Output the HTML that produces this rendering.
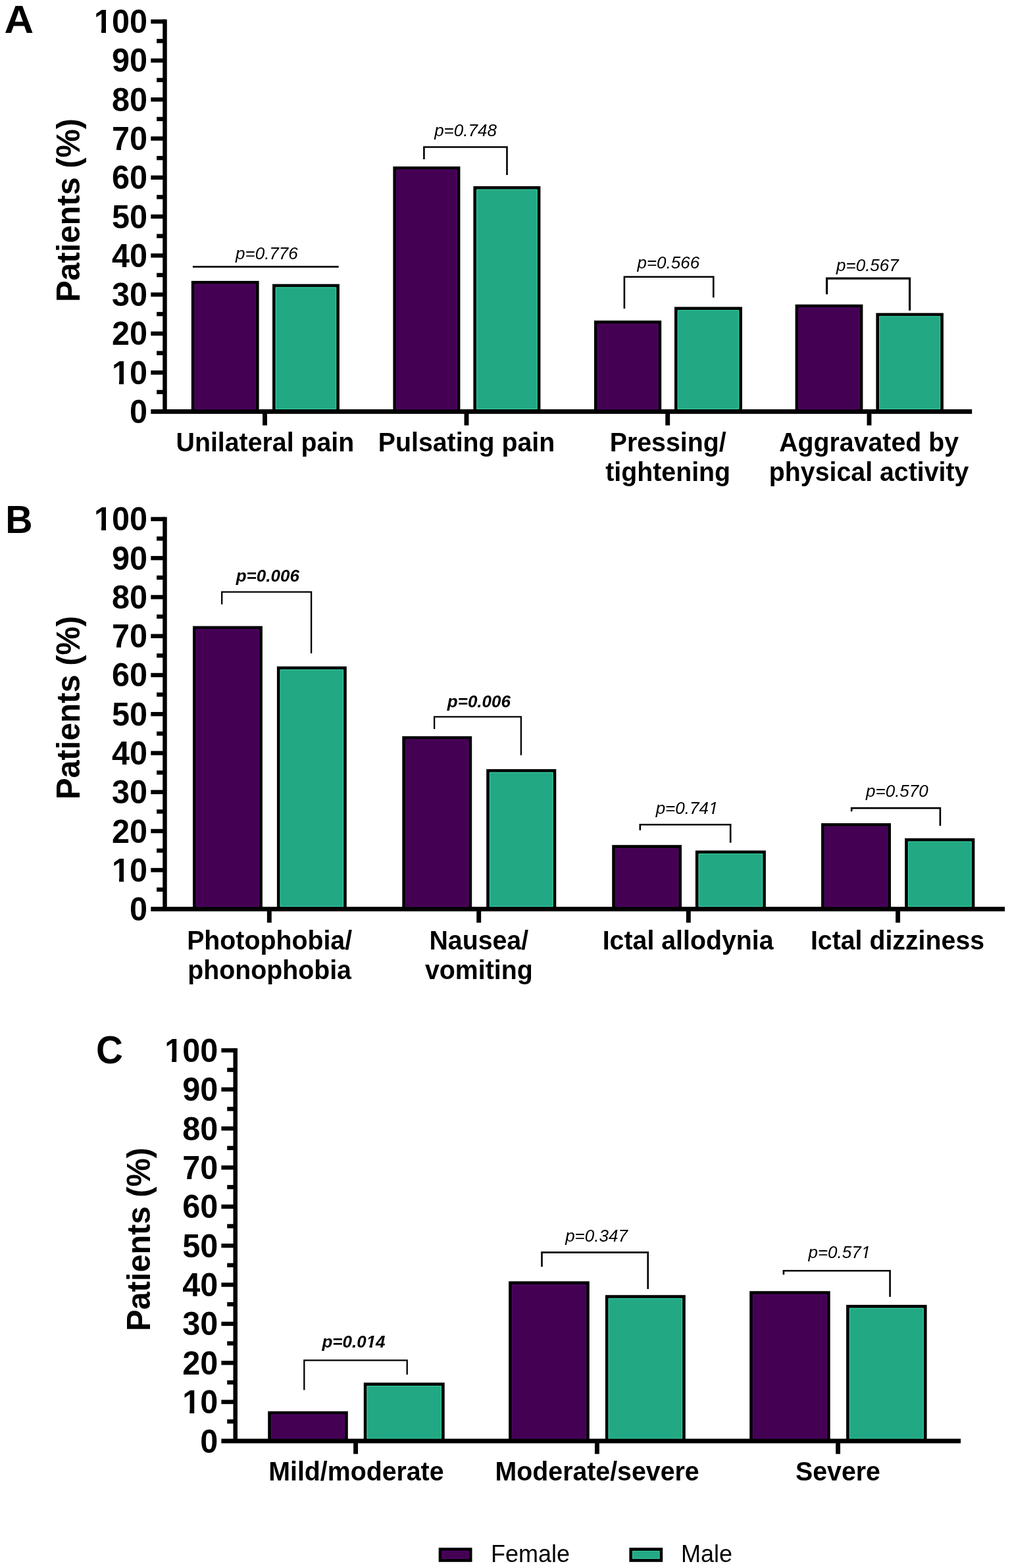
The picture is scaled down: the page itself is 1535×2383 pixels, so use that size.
<!DOCTYPE html>
<html lang="en">
<head>
<meta charset="utf-8">
<title>Patients (%) by sex: headache characteristics, associated symptoms and severity</title>
<style>
html, body { margin: 0; padding: 0; background: #ffffff; }
body { width: 1535px; height: 2383px; overflow: hidden; }
svg { display: block; font-family: 'Liberation Sans', sans-serif; fill: #000; }
svg text { font-family: 'Liberation Sans', sans-serif; }
</style>
</head>
<body>
<svg width="1535" height="2383" viewBox="0 0 1535 2383" role="img" aria-label="Bar charts of patient percentages by sex">
<rect x="0" y="0" width="1535" height="2383" fill="#ffffff"/>
<g id="panelA">
<rect x="293.15" y="429.25" width="98.1" height="196.25" fill="#440154" stroke="#000" stroke-width="4.7"/>
<path d="M296 621.55V432.1H388.4V621.55Z" fill="none" stroke="#5a0670" stroke-width="1" opacity="0.9"/>
<rect x="416.35" y="434.05" width="97.2" height="191.45" fill="#23a884" stroke="#000" stroke-width="4.7"/>
<path d="M419.2 621.55V436.9H510.7V621.55Z" fill="none" stroke="#3ad8aa" stroke-width="1" opacity="0.9"/>
<rect x="599.75" y="255.35" width="97.3" height="370.15" fill="#440154" stroke="#000" stroke-width="4.7"/>
<path d="M602.6 621.55V258.2H694.2V621.55Z" fill="none" stroke="#5a0670" stroke-width="1" opacity="0.9"/>
<rect x="721.75" y="285.35" width="97.3" height="340.15" fill="#23a884" stroke="#000" stroke-width="4.7"/>
<path d="M724.6 621.55V288.2H816.2V621.55Z" fill="none" stroke="#3ad8aa" stroke-width="1" opacity="0.9"/>
<rect x="905.35" y="489.55" width="97.5" height="135.95" fill="#440154" stroke="#000" stroke-width="4.7"/>
<path d="M908.2 621.55V492.4H1000V621.55Z" fill="none" stroke="#5a0670" stroke-width="1" opacity="0.9"/>
<rect x="1027.35" y="468.75" width="98.3" height="156.75" fill="#23a884" stroke="#000" stroke-width="4.7"/>
<path d="M1030.2 621.55V471.6H1122.8V621.55Z" fill="none" stroke="#3ad8aa" stroke-width="1" opacity="0.9"/>
<rect x="1210.95" y="465.05" width="98.1" height="160.45" fill="#440154" stroke="#000" stroke-width="4.7"/>
<path d="M1213.8 621.55V467.9H1306.2V621.55Z" fill="none" stroke="#5a0670" stroke-width="1" opacity="0.9"/>
<rect x="1333.75" y="478.05" width="97.8" height="147.45" fill="#23a884" stroke="#000" stroke-width="4.7"/>
<path d="M1336.6 621.55V480.9H1428.7V621.55Z" fill="none" stroke="#3ad8aa" stroke-width="1" opacity="0.9"/>
<rect x="247.25" y="29.5" width="6.5" height="596" fill="#000"/>
<rect x="229.3" y="622.05" width="1247.9" height="6.9" fill="#000"/>
<rect x="238.1" y="592.66" width="12.4" height="6.4" fill="#000"/>
<rect x="229.3" y="563.02" width="21.2" height="6.4" fill="#000"/>
<rect x="238.1" y="533.38" width="12.4" height="6.4" fill="#000"/>
<rect x="229.3" y="503.74" width="21.2" height="6.4" fill="#000"/>
<rect x="238.1" y="474.1" width="12.4" height="6.4" fill="#000"/>
<rect x="229.3" y="444.46" width="21.2" height="6.4" fill="#000"/>
<rect x="238.1" y="414.82" width="12.4" height="6.4" fill="#000"/>
<rect x="229.3" y="385.18" width="21.2" height="6.4" fill="#000"/>
<rect x="238.1" y="355.54" width="12.4" height="6.4" fill="#000"/>
<rect x="229.3" y="325.9" width="21.2" height="6.4" fill="#000"/>
<rect x="238.1" y="296.26" width="12.4" height="6.4" fill="#000"/>
<rect x="229.3" y="266.62" width="21.2" height="6.4" fill="#000"/>
<rect x="238.1" y="236.98" width="12.4" height="6.4" fill="#000"/>
<rect x="229.3" y="207.34" width="21.2" height="6.4" fill="#000"/>
<rect x="238.1" y="177.7" width="12.4" height="6.4" fill="#000"/>
<rect x="229.3" y="148.06" width="21.2" height="6.4" fill="#000"/>
<rect x="238.1" y="118.42" width="12.4" height="6.4" fill="#000"/>
<rect x="229.3" y="88.78" width="21.2" height="6.4" fill="#000"/>
<rect x="238.1" y="59.14" width="12.4" height="6.4" fill="#000"/>
<rect x="229.3" y="29.5" width="21.2" height="6.4" fill="#000"/>
<text transform="translate(224 643) scale(1 1.045)" font-size="48.6" font-weight="700" text-anchor="end">0</text>
<text transform="translate(224 583.72) scale(1 1.045)" font-size="48.6" font-weight="700" text-anchor="end">10</text>
<rect x="171.53" y="578.02" width="9.5" height="6.6" fill="#fff"/>
<rect x="188.03" y="578.02" width="9.5" height="6.6" fill="#fff"/>
<text transform="translate(224 524.44) scale(1 1.045)" font-size="48.6" font-weight="700" text-anchor="end">20</text>
<text transform="translate(224 465.16) scale(1 1.045)" font-size="48.6" font-weight="700" text-anchor="end">30</text>
<text transform="translate(224 405.88) scale(1 1.045)" font-size="48.6" font-weight="700" text-anchor="end">40</text>
<text transform="translate(224 346.6) scale(1 1.045)" font-size="48.6" font-weight="700" text-anchor="end">50</text>
<text transform="translate(224 287.32) scale(1 1.045)" font-size="48.6" font-weight="700" text-anchor="end">60</text>
<text transform="translate(224 228.04) scale(1 1.045)" font-size="48.6" font-weight="700" text-anchor="end">70</text>
<text transform="translate(224 168.76) scale(1 1.045)" font-size="48.6" font-weight="700" text-anchor="end">80</text>
<text transform="translate(224 109.48) scale(1 1.045)" font-size="48.6" font-weight="700" text-anchor="end">90</text>
<text transform="translate(224 50.2) scale(1 1.045)" font-size="48.6" font-weight="700" text-anchor="end">100</text>
<rect x="144.5" y="44.5" width="9.5" height="6.6" fill="#fff"/>
<rect x="161" y="44.5" width="9.5" height="6.6" fill="#fff"/>
<rect x="399.05" y="625.5" width="6.9" height="21" fill="#000"/>
<rect x="705.55" y="625.5" width="6.9" height="21" fill="#000"/>
<rect x="1011.25" y="625.5" width="6.9" height="21" fill="#000"/>
<rect x="1317.55" y="625.5" width="6.9" height="21" fill="#000"/>
<text transform="translate(120.8 319.5) rotate(-90) scale(1 1.03)" font-size="48.8" font-weight="700" text-anchor="middle">Patients (%)</text>
<text transform="translate(6.6 50.2) scale(1.07 1.035)" font-size="57.8" font-weight="700">A</text>
<rect x="292.9" y="404.05" width="221.8" height="2.7" fill="#000"/>
<text transform="translate(405.4 393.7) scale(1 1)" font-size="26" font-style="italic" text-anchor="middle">p=0.776</text>
<path d="M644.4 242V223.5H770.5V266" fill="none" stroke="#000" stroke-width="2.6" stroke-linejoin="miter"/>
<text transform="translate(707.5 207.3) scale(1 1)" font-size="26" font-style="italic" text-anchor="middle">p=0.748</text>
<path d="M948.9 468.9V420.7H1084.3V452.3" fill="none" stroke="#000" stroke-width="2.6" stroke-linejoin="miter"/>
<text transform="translate(1015.8 408.3) scale(1 1)" font-size="26" font-style="italic" text-anchor="middle">p=0.566</text>
<path d="M1256.6 447.2V423.2H1382.6V472" fill="none" stroke="#000" stroke-width="3.2" stroke-linejoin="miter"/>
<text transform="translate(1318.4 412.2) scale(1 1)" font-size="26" font-style="italic" text-anchor="middle">p=0.567</text>
<text transform="translate(402.9 686.1) scale(1 1.03)" font-size="39.3" font-weight="700" text-anchor="middle">Unilateral pain</text>
<text transform="translate(709 686.1) scale(1 1.03)" font-size="39.3" font-weight="700" text-anchor="middle">Pulsating pain</text>
<text transform="translate(1015.2 686.1) scale(1 1.03)" font-size="39.3" font-weight="700" text-anchor="middle">Pressing/</text>
<text transform="translate(1015.2 730.9) scale(1 1.03)" font-size="39.3" font-weight="700" text-anchor="middle">tightening</text>
<text transform="translate(1320.6 686.1) scale(1 1.03)" font-size="39.3" font-weight="700" text-anchor="middle">Aggravated by</text>
<text transform="translate(1320.6 730.9) scale(1 1.03)" font-size="39.3" font-weight="700" text-anchor="middle">physical activity</text>
</g>
<g id="panelB">
<rect x="295.35" y="953.85" width="101.2" height="427.75" fill="#440154" stroke="#000" stroke-width="4.7"/>
<path d="M298.2 1377.65V956.7H393.7V1377.65Z" fill="none" stroke="#5a0670" stroke-width="1" opacity="0.9"/>
<rect x="423.25" y="1015.15" width="101.2" height="366.45" fill="#23a884" stroke="#000" stroke-width="4.7"/>
<path d="M426.1 1377.65V1018H521.6V1377.65Z" fill="none" stroke="#3ad8aa" stroke-width="1" opacity="0.9"/>
<rect x="613.65" y="1121.25" width="101.2" height="260.35" fill="#440154" stroke="#000" stroke-width="4.7"/>
<path d="M616.5 1377.65V1124.1H712V1377.65Z" fill="none" stroke="#5a0670" stroke-width="1" opacity="0.9"/>
<rect x="741.55" y="1171.25" width="101.4" height="210.35" fill="#23a884" stroke="#000" stroke-width="4.7"/>
<path d="M744.4 1377.65V1174.1H840.1V1377.65Z" fill="none" stroke="#3ad8aa" stroke-width="1" opacity="0.9"/>
<rect x="932.55" y="1286.55" width="101.1" height="95.05" fill="#440154" stroke="#000" stroke-width="4.7"/>
<path d="M935.4 1377.65V1289.4H1030.8V1377.65Z" fill="none" stroke="#5a0670" stroke-width="1" opacity="0.9"/>
<rect x="1059.25" y="1294.95" width="102.3" height="86.65" fill="#23a884" stroke="#000" stroke-width="4.7"/>
<path d="M1062.1 1377.65V1297.8H1158.7V1377.65Z" fill="none" stroke="#3ad8aa" stroke-width="1" opacity="0.9"/>
<rect x="1250.45" y="1253.45" width="101.2" height="128.15" fill="#440154" stroke="#000" stroke-width="4.7"/>
<path d="M1253.3 1377.65V1256.3H1348.8V1377.65Z" fill="none" stroke="#5a0670" stroke-width="1" opacity="0.9"/>
<rect x="1377.55" y="1276.35" width="101.5" height="105.25" fill="#23a884" stroke="#000" stroke-width="4.7"/>
<path d="M1380.4 1377.65V1279.2H1476.2V1377.65Z" fill="none" stroke="#3ad8aa" stroke-width="1" opacity="0.9"/>
<rect x="247.25" y="785.7" width="6.5" height="595.9" fill="#000"/>
<rect x="229.3" y="1378.15" width="1297.8" height="6.9" fill="#000"/>
<rect x="238.1" y="1348.76" width="12.4" height="6.4" fill="#000"/>
<rect x="229.3" y="1319.13" width="21.2" height="6.4" fill="#000"/>
<rect x="238.1" y="1289.49" width="12.4" height="6.4" fill="#000"/>
<rect x="229.3" y="1259.86" width="21.2" height="6.4" fill="#000"/>
<rect x="238.1" y="1230.22" width="12.4" height="6.4" fill="#000"/>
<rect x="229.3" y="1200.59" width="21.2" height="6.4" fill="#000"/>
<rect x="238.1" y="1170.95" width="12.4" height="6.4" fill="#000"/>
<rect x="229.3" y="1141.32" width="21.2" height="6.4" fill="#000"/>
<rect x="238.1" y="1111.68" width="12.4" height="6.4" fill="#000"/>
<rect x="229.3" y="1082.05" width="21.2" height="6.4" fill="#000"/>
<rect x="238.1" y="1052.41" width="12.4" height="6.4" fill="#000"/>
<rect x="229.3" y="1022.78" width="21.2" height="6.4" fill="#000"/>
<rect x="238.1" y="993.14" width="12.4" height="6.4" fill="#000"/>
<rect x="229.3" y="963.51" width="21.2" height="6.4" fill="#000"/>
<rect x="238.1" y="933.87" width="12.4" height="6.4" fill="#000"/>
<rect x="229.3" y="904.24" width="21.2" height="6.4" fill="#000"/>
<rect x="238.1" y="874.6" width="12.4" height="6.4" fill="#000"/>
<rect x="229.3" y="844.97" width="21.2" height="6.4" fill="#000"/>
<rect x="238.1" y="815.33" width="12.4" height="6.4" fill="#000"/>
<rect x="229.3" y="785.7" width="21.2" height="6.4" fill="#000"/>
<text transform="translate(224 1399.1) scale(1 1.045)" font-size="48.6" font-weight="700" text-anchor="end">0</text>
<text transform="translate(224 1339.83) scale(1 1.045)" font-size="48.6" font-weight="700" text-anchor="end">10</text>
<rect x="171.53" y="1334.13" width="9.5" height="6.6" fill="#fff"/>
<rect x="188.03" y="1334.13" width="9.5" height="6.6" fill="#fff"/>
<text transform="translate(224 1280.56) scale(1 1.045)" font-size="48.6" font-weight="700" text-anchor="end">20</text>
<text transform="translate(224 1221.29) scale(1 1.045)" font-size="48.6" font-weight="700" text-anchor="end">30</text>
<text transform="translate(224 1162.02) scale(1 1.045)" font-size="48.6" font-weight="700" text-anchor="end">40</text>
<text transform="translate(224 1102.75) scale(1 1.045)" font-size="48.6" font-weight="700" text-anchor="end">50</text>
<text transform="translate(224 1043.48) scale(1 1.045)" font-size="48.6" font-weight="700" text-anchor="end">60</text>
<text transform="translate(224 984.21) scale(1 1.045)" font-size="48.6" font-weight="700" text-anchor="end">70</text>
<text transform="translate(224 924.94) scale(1 1.045)" font-size="48.6" font-weight="700" text-anchor="end">80</text>
<text transform="translate(224 865.67) scale(1 1.045)" font-size="48.6" font-weight="700" text-anchor="end">90</text>
<text transform="translate(224 806.4) scale(1 1.045)" font-size="48.6" font-weight="700" text-anchor="end">100</text>
<rect x="144.5" y="800.7" width="9.5" height="6.6" fill="#fff"/>
<rect x="161" y="800.7" width="9.5" height="6.6" fill="#fff"/>
<rect x="405.85" y="1381.6" width="6.9" height="20.7" fill="#000"/>
<rect x="724.25" y="1381.6" width="6.9" height="20.7" fill="#000"/>
<rect x="1042.85" y="1381.6" width="6.9" height="20.7" fill="#000"/>
<rect x="1361.15" y="1381.6" width="6.9" height="20.7" fill="#000"/>
<text transform="translate(120.8 1075.5) rotate(-90) scale(1 1.03)" font-size="48.8" font-weight="700" text-anchor="middle">Patients (%)</text>
<text transform="translate(8.2 810.2) scale(0.99 1.035)" font-size="57.8" font-weight="700">B</text>
<path d="M337.2 918.4V899.6H473.1V992.9" fill="none" stroke="#000" stroke-width="2.3" stroke-linejoin="miter"/>
<text transform="translate(406.8 884.4) scale(1 1)" font-size="26" font-weight="700" font-style="italic" text-anchor="middle">p=0.006</text>
<path d="M660.1 1107.9V1089.3H791.9V1147.7" fill="none" stroke="#000" stroke-width="2.3" stroke-linejoin="miter"/>
<text transform="translate(727.9 1075.4) scale(1 1)" font-size="26" font-weight="700" font-style="italic" text-anchor="middle">p=0.006</text>
<path d="M972.8 1261.8V1253.2H1110.2V1280.8" fill="none" stroke="#000" stroke-width="2.6" stroke-linejoin="miter"/>
<text transform="translate(1044 1236.7) scale(1 1)" font-size="26" font-style="italic" text-anchor="middle">p=0.741</text>
<path d="M1294.2 1233.2V1228.1H1428.9V1254.9" fill="none" stroke="#000" stroke-width="2.6" stroke-linejoin="miter"/>
<text transform="translate(1363.4 1210.8) scale(1 1)" font-size="26" font-style="italic" text-anchor="middle">p=0.570</text>
<text transform="translate(409.6 1443) scale(1 1.03)" font-size="39.3" font-weight="700" text-anchor="middle">Photophobia/</text>
<text transform="translate(409.6 1488.3) scale(1 1.03)" font-size="39.3" font-weight="700" text-anchor="middle">phonophobia</text>
<text transform="translate(727.8 1443) scale(1 1.03)" font-size="39.3" font-weight="700" text-anchor="middle">Nausea/</text>
<text transform="translate(727.8 1488.3) scale(1 1.03)" font-size="39.3" font-weight="700" text-anchor="middle">vomiting</text>
<text transform="translate(1045.6 1443) scale(1 1.03)" font-size="39.3" font-weight="700" text-anchor="middle">Ictal allodynia</text>
<text transform="translate(1364 1443) scale(1 1.03)" font-size="39.3" font-weight="700" text-anchor="middle">Ictal dizziness</text>
</g>
<g id="panelC">
<rect x="409.55" y="2147.15" width="116.9" height="42.85" fill="#440154" stroke="#000" stroke-width="4.7"/>
<path d="M412.4 2186.05V2150H523.6V2186.05Z" fill="none" stroke="#5a0670" stroke-width="1" opacity="0.9"/>
<rect x="555.15" y="2103.65" width="118.2" height="86.35" fill="#23a884" stroke="#000" stroke-width="4.7"/>
<path d="M558 2186.05V2106.5H670.5V2186.05Z" fill="none" stroke="#3ad8aa" stroke-width="1" opacity="0.9"/>
<rect x="775.45" y="1949.65" width="118" height="240.35" fill="#440154" stroke="#000" stroke-width="4.7"/>
<path d="M778.3 2186.05V1952.5H890.6V2186.05Z" fill="none" stroke="#5a0670" stroke-width="1" opacity="0.9"/>
<rect x="922.25" y="1970.55" width="117.2" height="219.45" fill="#23a884" stroke="#000" stroke-width="4.7"/>
<path d="M925.1 2186.05V1973.4H1036.6V2186.05Z" fill="none" stroke="#3ad8aa" stroke-width="1" opacity="0.9"/>
<rect x="1141.55" y="1964.55" width="117.8" height="225.45" fill="#440154" stroke="#000" stroke-width="4.7"/>
<path d="M1144.4 2186.05V1967.4H1256.5V2186.05Z" fill="none" stroke="#5a0670" stroke-width="1" opacity="0.9"/>
<rect x="1288.45" y="1985.45" width="117.8" height="204.55" fill="#23a884" stroke="#000" stroke-width="4.7"/>
<path d="M1291.3 2186.05V1988.3H1403.4V2186.05Z" fill="none" stroke="#3ad8aa" stroke-width="1" opacity="0.9"/>
<rect x="354.45" y="1593.1" width="6.5" height="596.9" fill="#000"/>
<rect x="336.4" y="2186.55" width="1123.7" height="6.9" fill="#000"/>
<rect x="345.2" y="2157.12" width="12.5" height="6.4" fill="#000"/>
<rect x="336.4" y="2127.43" width="21.3" height="6.4" fill="#000"/>
<rect x="345.2" y="2097.75" width="12.5" height="6.4" fill="#000"/>
<rect x="336.4" y="2068.06" width="21.3" height="6.4" fill="#000"/>
<rect x="345.2" y="2038.38" width="12.5" height="6.4" fill="#000"/>
<rect x="336.4" y="2008.69" width="21.3" height="6.4" fill="#000"/>
<rect x="345.2" y="1979" width="12.5" height="6.4" fill="#000"/>
<rect x="336.4" y="1949.32" width="21.3" height="6.4" fill="#000"/>
<rect x="345.2" y="1919.63" width="12.5" height="6.4" fill="#000"/>
<rect x="336.4" y="1889.95" width="21.3" height="6.4" fill="#000"/>
<rect x="345.2" y="1860.26" width="12.5" height="6.4" fill="#000"/>
<rect x="336.4" y="1830.58" width="21.3" height="6.4" fill="#000"/>
<rect x="345.2" y="1800.89" width="12.5" height="6.4" fill="#000"/>
<rect x="336.4" y="1771.21" width="21.3" height="6.4" fill="#000"/>
<rect x="345.2" y="1741.52" width="12.5" height="6.4" fill="#000"/>
<rect x="336.4" y="1711.84" width="21.3" height="6.4" fill="#000"/>
<rect x="345.2" y="1682.15" width="12.5" height="6.4" fill="#000"/>
<rect x="336.4" y="1652.47" width="21.3" height="6.4" fill="#000"/>
<rect x="345.2" y="1622.78" width="12.5" height="6.4" fill="#000"/>
<rect x="336.4" y="1593.1" width="21.3" height="6.4" fill="#000"/>
<text transform="translate(331.2 2207.5) scale(1 1.045)" font-size="48.6" font-weight="700" text-anchor="end">0</text>
<text transform="translate(331.2 2148.13) scale(1 1.045)" font-size="48.6" font-weight="700" text-anchor="end">10</text>
<rect x="278.73" y="2142.43" width="9.5" height="6.6" fill="#fff"/>
<rect x="295.23" y="2142.43" width="9.5" height="6.6" fill="#fff"/>
<text transform="translate(331.2 2088.76) scale(1 1.045)" font-size="48.6" font-weight="700" text-anchor="end">20</text>
<text transform="translate(331.2 2029.39) scale(1 1.045)" font-size="48.6" font-weight="700" text-anchor="end">30</text>
<text transform="translate(331.2 1970.02) scale(1 1.045)" font-size="48.6" font-weight="700" text-anchor="end">40</text>
<text transform="translate(331.2 1910.65) scale(1 1.045)" font-size="48.6" font-weight="700" text-anchor="end">50</text>
<text transform="translate(331.2 1851.28) scale(1 1.045)" font-size="48.6" font-weight="700" text-anchor="end">60</text>
<text transform="translate(331.2 1791.91) scale(1 1.045)" font-size="48.6" font-weight="700" text-anchor="end">70</text>
<text transform="translate(331.2 1732.54) scale(1 1.045)" font-size="48.6" font-weight="700" text-anchor="end">80</text>
<text transform="translate(331.2 1673.17) scale(1 1.045)" font-size="48.6" font-weight="700" text-anchor="end">90</text>
<text transform="translate(331.2 1613.8) scale(1 1.045)" font-size="48.6" font-weight="700" text-anchor="end">100</text>
<rect x="251.7" y="1608.1" width="9.5" height="6.6" fill="#fff"/>
<rect x="268.2" y="1608.1" width="9.5" height="6.6" fill="#fff"/>
<rect x="537.15" y="2190" width="6.9" height="19.7" fill="#000"/>
<rect x="903.95" y="2190" width="6.9" height="19.7" fill="#000"/>
<rect x="1270.15" y="2190" width="6.9" height="19.7" fill="#000"/>
<text transform="translate(228 1883.5) rotate(-90) scale(1 1.03)" font-size="48.8" font-weight="700" text-anchor="middle">Patients (%)</text>
<text transform="translate(146 1615.6) scale(0.98 1.035)" font-size="57.8" font-weight="700">C</text>
<path d="M462.3 2112.6V2067.3H618.7V2089.1" fill="none" stroke="#000" stroke-width="2.3" stroke-linejoin="miter"/>
<text transform="translate(537.5 2048.1) scale(1 1)" font-size="26" font-weight="700" font-style="italic" text-anchor="middle">p=0.014</text>
<path d="M823.5 1925.2V1903.4H984.7V1959" fill="none" stroke="#000" stroke-width="2.6" stroke-linejoin="miter"/>
<text transform="translate(906.5 1886.7) scale(1 1)" font-size="26" font-style="italic" text-anchor="middle">p=0.347</text>
<path d="M1190.9 1937.2V1931.3H1352.6V1971" fill="none" stroke="#000" stroke-width="2.6" stroke-linejoin="miter"/>
<text transform="translate(1275.8 1911.8) scale(1 1)" font-size="26" font-style="italic" text-anchor="middle">p=0.571</text>
<text transform="translate(541.4 2250.3) scale(1 1.03)" font-size="39.3" font-weight="700" text-anchor="middle">Mild/moderate</text>
<text transform="translate(907.6 2250.3) scale(1 1.03)" font-size="39.3" font-weight="700" text-anchor="middle">Moderate/severe</text>
<text transform="translate(1273.5 2250.3) scale(1 1.03)" font-size="39.3" font-weight="700" text-anchor="middle">Severe</text>
</g>
<g id="glyph-trim">
<rect x="1077.5" y="1234.6" width="4.8" height="2.6" fill="#fff"/>
<rect x="1084.8" y="1234.6" width="4.7" height="2.6" fill="#fff"/>
<rect x="1309" y="1909.6" width="5.3" height="2.6" fill="#fff"/>
<rect x="1316.8" y="1909.6" width="4.7" height="2.6" fill="#fff"/>
<rect x="556.5" y="2044.6" width="5" height="3.4" fill="#fff"/>
<rect x="565.6" y="2044.6" width="4.9" height="3.4" fill="#fff"/>
</g>
<g id="legend">
<rect x="669.05" y="2354.55" width="46.1" height="16.9" fill="#440154" stroke="#000" stroke-width="4.7"/>
<rect x="671.9" y="2357.4" width="40.4" height="11.2" fill="none" stroke="#5a0670" stroke-width="1" opacity="0.9"/>
<text transform="translate(746 2374.3) scale(1 1.03)" font-size="36">Female</text>
<rect x="958.75" y="2354.55" width="46.1" height="16.9" fill="#23a884" stroke="#000" stroke-width="4.7"/>
<rect x="961.6" y="2357.4" width="40.4" height="11.2" fill="none" stroke="#3ad8aa" stroke-width="1" opacity="0.9"/>
<text transform="translate(1035 2374.3) scale(1 1.03)" font-size="36">Male</text>
</g>
</svg>
</body>
</html>
